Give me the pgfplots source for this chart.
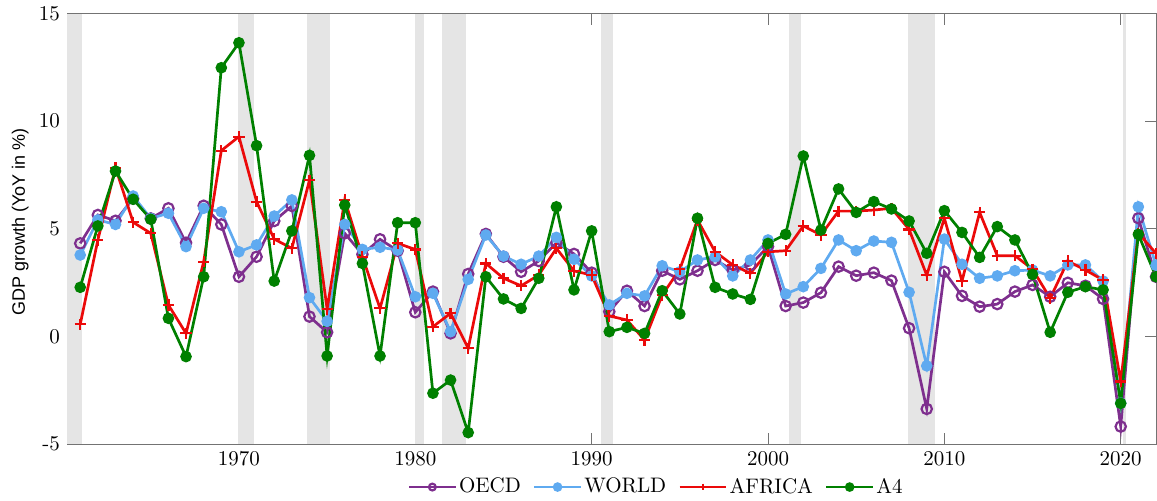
\documentclass[border=0pt]{standalone}
\usepackage{fontspec}
\usepackage{pgfplots}
\usepackage{pgfplotstable}
\pgfplotsset{compat=1.18}
\newfontfamily\labelfont{Liberation Sans}
\definecolor{coecd}{rgb}{0.494,0.184,0.556}
\definecolor{cworld}{RGB}{95,170,240}
\definecolor{cafrica}{RGB}{235,10,10}
\definecolor{ca4}{RGB}{0,128,0}
\definecolor{cband}{RGB}{229,229,229}
\pgfplotstableread{
year oecd world africa a4
1961 4.32 3.78 0.56 2.28
1962 5.64 5.41 4.48 5.13
1963 5.37 5.20 7.84 7.68
1964 6.40 6.52 5.30 6.37
1965 5.48 5.48 4.79 5.44
1966 5.95 5.72 1.46 0.84
1967 4.35 4.17 0.14 -0.94
1968 6.07 5.95 3.47 2.77
1969 5.20 5.79 8.63 12.48
1970 2.77 3.93 9.28 13.64
1971 3.70 4.25 6.26 8.86
1972 5.36 5.59 4.52 2.57
1973 6.06 6.34 4.09 4.90
1974 0.92 1.80 7.26 8.41
1975 0.19 0.70 1.27 -0.91
1976 4.79 5.20 6.34 6.10
1977 3.81 4.04 3.70 3.39
1978 4.51 4.14 1.30 -0.91
1979 3.98 4.01 4.32 5.28
1980 1.12 1.84 4.04 5.28
1981 2.08 2.00 0.45 -2.64
1982 0.14 0.22 1.07 -2.03
1983 2.90 2.65 -0.55 -4.47
1984 4.76 4.71 3.39 2.77
1985 3.70 3.73 2.70 1.74
1986 3.00 3.35 2.35 1.30
1987 3.50 3.73 2.85 2.70
1988 4.35 4.60 4.09 6.02
1989 3.83 3.58 3.04 2.16
1990 2.96 2.81 2.85 4.90
1991 1.15 1.46 0.95 0.22
1992 2.12 2.00 0.76 0.42
1993 1.41 1.88 -0.17 0.14
1994 3.05 3.28 1.92 2.12
1995 2.65 3.00 3.12 1.04
1996 3.05 3.55 5.41 5.49
1997 3.55 3.70 3.93 2.28
1998 3.08 2.81 3.32 1.97
1999 3.32 3.55 2.93 1.72
2000 4.17 4.48 3.93 4.32
2001 1.41 1.97 3.98 4.74
2002 1.57 2.31 5.13 8.38
2003 2.03 3.16 4.71 4.94
2004 3.24 4.48 5.82 6.85
2005 2.82 3.98 5.82 5.76
2006 2.96 4.43 5.87 6.26
2007 2.59 4.37 5.95 5.92
2008 0.38 2.05 4.97 5.36
2009 -3.37 -1.37 2.84 3.86
2010 3.00 4.52 5.49 5.84
2011 1.88 3.35 2.57 4.83
2012 1.38 2.70 5.76 3.67
2013 1.50 2.81 3.75 5.10
2014 2.08 3.05 3.75 4.48
2015 2.39 3.08 3.12 2.88
2016 1.84 2.81 1.77 0.19
2017 2.49 3.32 3.50 2.05
2018 2.35 3.32 3.08 2.31
2019 1.74 2.57 2.62 2.16
2020 -4.19 -3.10 -2.10 -3.11
2021 5.49 6.02 4.79 4.74
2022 2.77 3.30 3.86 2.77
}\gdpdata
\begin{document}
\begin{tikzpicture}
\useasboundingbox (0,0) rectangle (578.5pt,250pt);
\begin{axis}[
  at={(33.5pt,28pt)}, anchor=south west,
  scale only axis, width=544.5pt, height=215.25pt,
  xmin=1960.25, xmax=2022, ymin=-5, ymax=15,
  xtick={1970,1980,1990,2000,2010,2020},
  xticklabels={1970,1980,1990,2000,2010,2020},
  ytick={-5,0,5,10,15},
  yticklabels={-5,0,5,10,15},
  tick align=inside, tick pos=both,
  major tick length=5.5pt,
  axis line style={black!55},
  every tick/.style={black!55},
  tick label style={font=\fontsize{10.5}{12}\selectfont},
  ylabel={\labelfont\fontsize{9}{11}\selectfont GDP growth (YoY in \%)},
  ylabel style={at={(axis description cs:-0.043,0.516)}, anchor=center},
  legend columns=4,
  legend style={draw=none, fill=none, at={(axis description cs:0.541,-0.10)}, anchor=center,
    font=\fontsize{10.5}{12}\selectfont, inner sep=0pt,
    nodes={inner xsep=1pt, inner ysep=1pt}},
  /tikz/every even column/.append style={column sep=5pt},
  legend cell align=left,
  legend image code/.code={
    \draw[mark repeat=2,mark phase=2,#1,mark size=1.7pt] plot coordinates {(0cm,0cm) (0.41cm,0cm) (0.82cm,0cm)};},
  every axis plot/.append style={line width=1.35pt},
]
\addplot[fill=cband,draw=none,forget plot] coordinates {(1960.25,-5) (1960.25,15) (1961.08,15) (1961.08,-5)} -- cycle;
\addplot[fill=cband,draw=none,forget plot] coordinates {(1969.92,-5) (1969.92,15) (1970.88,15) (1970.88,-5)} -- cycle;
\addplot[fill=cband,draw=none,forget plot] coordinates {(1973.88,-5) (1973.88,15) (1975.17,15) (1975.17,-5)} -- cycle;
\addplot[fill=cband,draw=none,forget plot] coordinates {(1980.0,-5) (1980.0,15) (1980.5,15) (1980.5,-5)} -- cycle;
\addplot[fill=cband,draw=none,forget plot] coordinates {(1981.54,-5) (1981.54,15) (1982.88,15) (1982.88,-5)} -- cycle;
\addplot[fill=cband,draw=none,forget plot] coordinates {(1990.54,-5) (1990.54,15) (1991.21,15) (1991.21,-5)} -- cycle;
\addplot[fill=cband,draw=none,forget plot] coordinates {(2001.21,-5) (2001.21,15) (2001.88,15) (2001.88,-5)} -- cycle;
\addplot[fill=cband,draw=none,forget plot] coordinates {(2007.96,-5) (2007.96,15) (2009.46,15) (2009.46,-5)} -- cycle;
\addplot[fill=cband,draw=none,forget plot] coordinates {(2020.12,-5) (2020.12,15) (2020.29,15) (2020.29,-5)} -- cycle;
\addplot[coecd, mark=o, mark size=2.6pt, mark options={line width=1.1pt}] table[x=year,y=oecd] {\gdpdata};
\addlegendentry{OECD}
\addplot[cworld, mark=*, mark size=2.2pt] table[x=year,y=world] {\gdpdata};
\addlegendentry{WORLD}
\addplot[cafrica, mark=+, mark size=2.8pt, mark options={line width=1.1pt}] table[x=year,y=africa] {\gdpdata};
\addlegendentry{AFRICA}
\addplot[ca4, mark=*, mark size=2.2pt] table[x=year,y=a4] {\gdpdata};
\addlegendentry{A4}
\end{axis}
\end{tikzpicture}
\end{document}
